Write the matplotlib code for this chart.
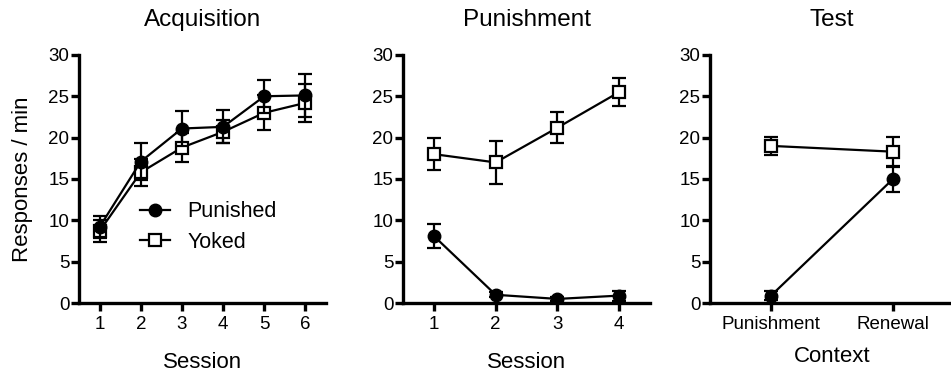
import matplotlib
matplotlib.use("Agg")
import matplotlib.pyplot as plt
from matplotlib.lines import Line2D

plt.rcParams['font.family'] = ['Liberation Sans', 'DejaVu Sans']

# Acquisition
acq_sessions = [1, 2, 3, 4, 5, 6]
acq_pun = [9.2, 17.1, 21.1, 21.3, 25.0, 25.1]
acq_pun_err = [1.3, 2.2, 2.1, 2.0, 2.0, 2.6]
acq_yok = [8.7, 15.8, 18.8, 20.7, 23.0, 24.2]
acq_yok_err = [1.3, 1.6, 1.7, 1.4, 2.1, 2.3]

# Punishment
pun_sessions = [1, 2, 3, 4]
pun_pun = [8.1, 1.0, 0.5, 0.9]
pun_pun_err = [1.4, 0.3, 0.2, 0.6]
pun_yok = [18.0, 17.0, 21.2, 25.5]
pun_yok_err = [1.9, 2.6, 1.9, 1.7]

# Test
test_contexts = ["Punishment", "Renewal"]
test_pun = [0.9, 15.0]
test_pun_err = [0.5, 1.6]
test_yok = [19.0, 18.3]
test_yok_err = [1.1, 1.8]

titles = ["Acquisition", "Punishment", "Test"]
yticks = [0, 5, 10, 15, 20, 25, 30]

fig = plt.figure(figsize=(9.51, 3.76), dpi=100)
bottom, height = 0.194, 0.660
ax1 = fig.add_axes([0.0831, bottom, 0.2597, height])
ax2 = fig.add_axes([0.4238, bottom, 0.2597, height])
ax3 = fig.add_axes([0.7466, bottom, 0.2566, height])

lw = 1.6
ms = 8.5
cap = 5
TICK_FS = 13.5
LABEL_FS = 16
TITLE_FS = 17.5

def draw(ax, x, yok, yok_err, pun, pun_err):
    ax.errorbar(x, yok, yerr=yok_err, color='black', lw=lw, marker='s', ms=ms,
                mfc='white', mec='black', mew=1.6, capsize=cap, capthick=lw,
                elinewidth=lw, zorder=3)
    ax.errorbar(x, pun, yerr=pun_err, color='black', lw=lw, marker='o', ms=ms + 0.5,
                mfc='black', mec='black', capsize=cap, capthick=lw,
                elinewidth=lw, zorder=4)

def style(ax, title):
    for s in ['top', 'right']:
        ax.spines[s].set_visible(False)
    for s in ['left', 'bottom']:
        ax.spines[s].set_linewidth(2.4)
    ax.set_ylim(0, 30)
    ax.set_yticks(yticks)
    ax.tick_params(axis='x', width=2.4, length=6, labelsize=TICK_FS, pad=3)
    ax.tick_params(axis='y', width=2.4, length=6, labelsize=TICK_FS, pad=1)
    ax.set_title(title, fontsize=TITLE_FS, pad=20.5)
    for sp in ax.spines.values():
        sp.set_clip_on(False)

draw(ax1, acq_sessions, acq_yok, acq_yok_err, acq_pun, acq_pun_err)
style(ax1, titles[0])
ax1.set_xlim(0.5, 6.5)
ax1.set_xticks(acq_sessions)
ax1.set_xlabel("Session", fontsize=LABEL_FS, labelpad=14)
ax1.set_ylabel("Responses / min", fontsize=LABEL_FS, labelpad=11)
handles = [
    Line2D([], [], color='black', lw=lw, marker='o', ms=ms + 0.5, mfc='black'),
    Line2D([], [], color='black', lw=lw, marker='s', ms=ms, mfc='white', mew=1.6),
]
ax1.legend(handles, ["Punished", "Yoked"], loc='upper left',
           bbox_to_anchor=(0.247, 0.41), frameon=False, fontsize=15.5,
           handlelength=1.4, handletextpad=0.8, labelspacing=0.45,
           borderaxespad=0, borderpad=0)

draw(ax2, pun_sessions, pun_yok, pun_yok_err, pun_pun, pun_pun_err)
style(ax2, titles[1])
ax2.set_xlim(0.5, 4.5)
ax2.set_xticks(pun_sessions)
ax2.set_xlabel("Session", fontsize=LABEL_FS, labelpad=14)

xt = list(range(len(test_contexts)))
draw(ax3, xt, test_yok, test_yok_err, test_pun, test_pun_err)
style(ax3, titles[2])
ax3.set_xlim(-0.5, 1.5)
ax3.set_xticks(xt)
ax3.set_xticklabels(test_contexts)
ax3.set_xlabel("Context", fontsize=LABEL_FS, labelpad=10)

fig.savefig("out.png", dpi=100)
